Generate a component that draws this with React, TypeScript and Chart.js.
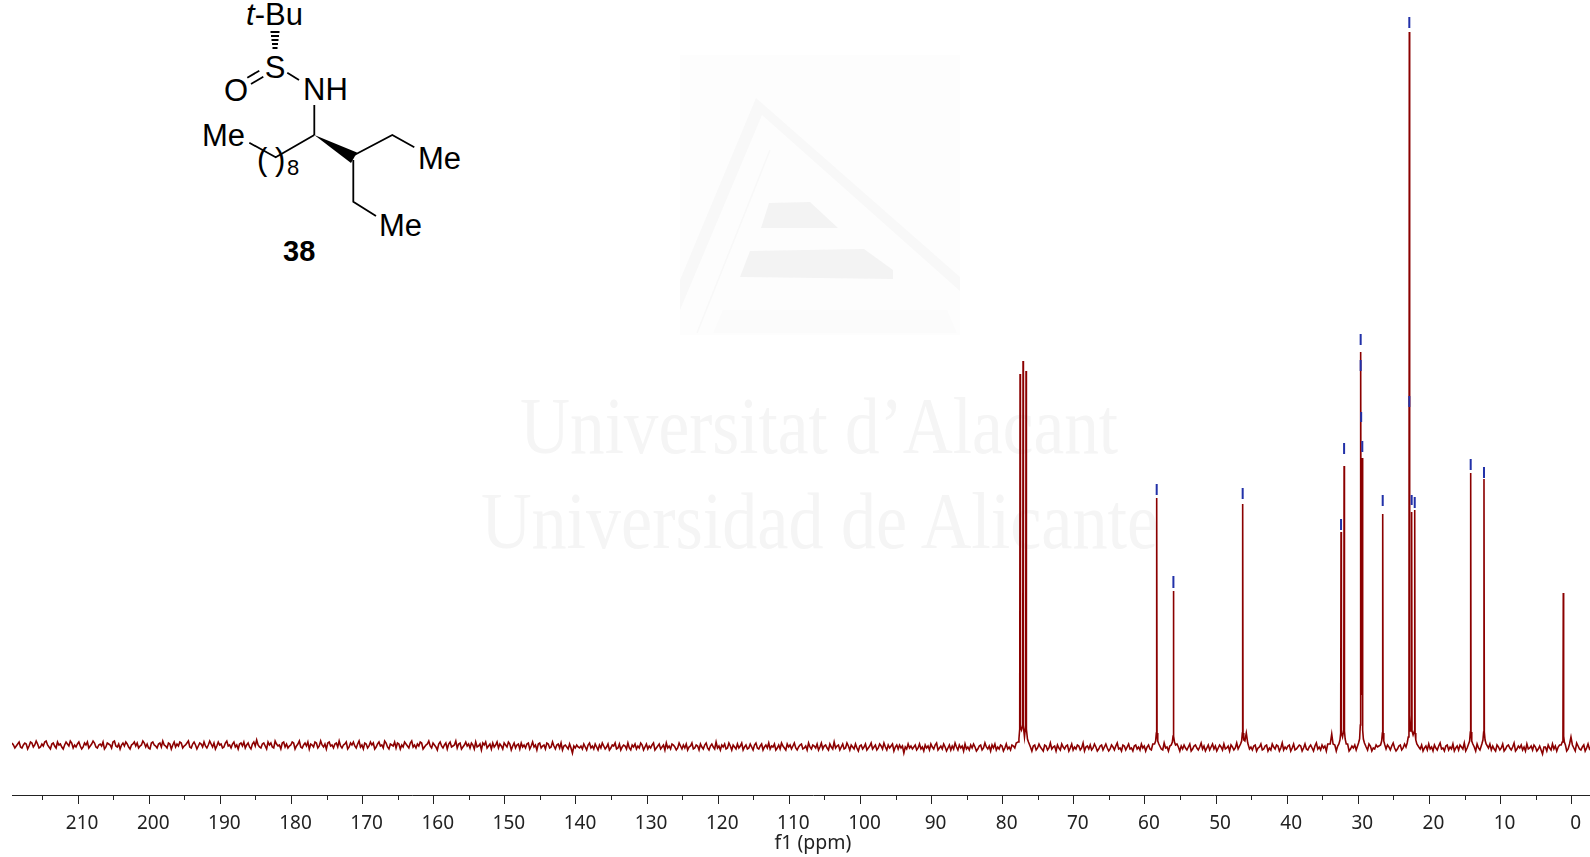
import React, { useEffect, useRef } from "react";
import { Chart, registerables } from "chart.js";

Chart.register(...registerables);

// Major / minor axis spacing in ppm
const majorStep = 10;
const minorStep = 5;
const axisHighPpm = 219.3;
const axisLowPpm = -5.95;

// Baseline, left to right, one value every 0.2 ppm starting at 219.3 ppm
const baselineStartPpm = 219.3;
const baselineStepPpm = 0.2;
const baselineValues = [
  2,0,-3,-1,1,3,-2,-3,0,2,1,-4,-1,3,2,-2,0,4,1,-3,-2,1,-1,3,4,0,-2,-4,1,2,-1,-3,3,0,1,-2,-4,0,3,1,
  -1,4,2,-3,0,-2,1,3,-1,-4,-2,2,0,3,-3,-1,1,4,2,-2,-3,0,1,-1,3,-4,-2,2,1,0,-3,3,4,-1,-2,1,-4,0,2,-1,
  3,1,-2,-4,0,1,3,-1,2,-3,-1,0,4,2,-2,1,-3,-4,2,3,0,-1,-3,1,2,-2,4,0,-1,-3,2,1,-4,0,3,-2,1,-1,3,2,
  -3,-1,0,2,4,-2,-3,1,3,0,-4,-1,2,1,-2,3,-1,-3,0,4,1,-2,2,-4,-1,3,0,1,-3,-2,2,4,-1,0,-3,1,3,-2,0,-4,
  1,2,-1,3,-3,0,2,-2,-4,1,3,-1,5,0,-2,-3,1,2,-1,-4,3,0,2,-2,-3,4,1,-1,0,-4,2,3,-2,1,-3,-1,0,3,2,-4,
  -1,1,4,-2,-3,0,2,-1,3,-4,1,0,-2,3,2,-3,-1,4,0,-2,1,-4,2,3,-1,0,-3,1,2,-2,4,-1,-3,0,1,3,-4,-2,2,0,
  3,-1,-3,1,4,-2,0,-4,2,1,-3,-1,3,0,2,-4,-2,1,3,-1,0,-3,4,2,-2,-4,1,0,-1,3,-3,2,1,-4,0,-2,3,1,-1,-3,
  2,4,-2,0,-3,1,-1,3,2,-4,-2,0,1,4,-1,-3,2,0,-2,-5,1,3,-1,-3,0,2,-4,1,3,-2,-1,0,4,-3,1,2,-4,-2,0,3,
  -1,1,-3,2,0,-4,3,-2,-1,1,-5,2,0,3,-3,-1,1,-4,2,-2,0,3,-3,1,-1,-4,2,0,-2,3,1,-5,-1,2,-3,0,1,-4,2,-2,
  0,-3,1,2,-4,-1,3,-2,0,-5,1,2,-3,-1,0,-4,2,1,-3,-2,3,-1,-4,0,1,-3,2,-5,-1,0,-2,-4,1,-3,-8,-1,-3,0,-2,-3,
  -1,-4,1,-2,-5,0,2,-3,-1,-4,1,-2,-5,0,-3,2,-1,-4,-2,1,-5,-3,0,-1,2,-4,-3,1,-5,-2,0,-1,-4,2,-3,-5,0,-2,1,-4,
  -1,-3,2,0,-5,-2,1,-4,-1,-3,0,2,-5,-3,-1,1,-4,-2,0,-5,2,-3,-1,-4,1,0,-2,-5,-3,2,-1,-4,0,-3,1,-5,-2,-1,2,-4,
  -3,0,-1,-5,1,-2,-4,0,2,-3,-5,-1,1,-2,-4,3,-3,-1,-5,0,-2,1,-4,-3,2,-1,-5,0,-2,-4,1,-3,-1,2,-5,-2,0,-4,-3,1,
  -2,-5,0,2,-3,-4,-1,1,-5,-2,0,-3,2,-4,-1,-2,1,-5,-3,0,-4,2,-1,-3,-5,1,-2,0,-4,-1,2,-3,-5,-2,0,1,-4,-3,-1,-5,
  2,-2,-4,0,-1,-3,1,-5,-2,2,-4,-1,0,-3,-5,1,-2,-4,3,-3,-1,0,-5,-2,1,-4,-3,2,-1,-5,0,-2,-4,1,-3,-6,-1,0,-4,-2,
  1,-5,-3,-1,2,-4,-2,0,-5,-3,1,-1,-4,2,-2,-5,0,-3,-1,1,-6,-2,0,-4,0,-3,-1,-8,-2,-4,1,-3,-1,-4,-2,0,-5,-3,1,-4,
  -2,-6,0,-3,-1,-5,1,-2,-4,0,2,-5,-3,-1,-4,1,-2,-6,-3,0,-5,-1,-4,2,-2,-5,0,-3,-1,-6,1,-4,-2,-5,0,-3,1,-2,-6,-4,
  -1,0,-5,-3,2,-2,-4,-1,-6,0,-3,1,-5,-2,-4,0,-1,-6,-3,1,-4,-2,-5,0,-1,-3,2,-6,-4,-2,-1,-5,0,-3,1,-4,-2,-6,-1,0,
  -5,-3,1,-2,-4,-6,0,-1,-5,-3,2,-4,-2,-1,-6,0,-3,-5,1,-2,-4,-1,0,-6,-3,1,-5,-2,-4,0,-1,-5,-3,2,-6,-2,-1,-4,0,-5,
  -3,1,-2,-6,-4,-1,0,-5,-2,1,-3,-6,-4,0,-2,-5,-1,2,-4,-3,-6,0,-1,-5,-2,1,-4,-3,-6,-1,0,-4,-2,-5,1,-3,-1,-6,-2,0,
  -4,-5,1,-3,-2,-6,0,-1,-4,-5,2,-3,-2,-6,-1,0,-4,-3,-5,1,-2,-6,-1,-4,0,-3,-5,-2,1,-6,-4,-1,0,-3,-5,-2,2,-4,-1,-6,
  -3,0,-5,-2,1,-4,-1,-6,-3,0,-2,-5,1,-4,-3,-1,-6,0,-2,-5,-3,2,-4,-1,-5,-2,0,-6,-3,1,-4,-2,-5,-1,0,-6,-3,-2,1,-5,
  -4,-1,0,-6,-3,-5,1,-2,-4,0,-1,-6,-3,2,-5,-2,-4,-1,0,-6,-3,1,-5,-4,-2,0,-1,-6,-3,1,-4,-5,-2,0,-3,-6,-1,2,-4,-2,
  -5,0,-3,-1,-6,1,-4,-2,-5,-3,0,-6,-1,2,-4,-3,-5,-2,0,1,-6,-4,-1,-3,0,-5,-2,1,-6,-3,-4,0,-2,-5,1,-1,-6,-3,-4,0,
  -2,-1,-5,1,-3,-6,-4,0,-2,-5,-1,2,-3,-6,-4,-1,0,-5,-3,1,-2,-5,-1,-4,-2,-3,-8,-1,-4,-2,-4,0,-6,-3,-1,-5,1,-4,
  -2,-6,0,-3,-5,-1,2,-4,-3,-6,-1,0,-5,-2,-4,1,-6,-3,-1,-5,0,-2,-4,2,-6,-3,-1,-5,-4,0,-2,-6,1,-3,-5,-1,-4,0,-6,-2,
  -3,1,-5,-1,-4,-6,0,-2,-5,-3,1,-6,-4,-1,0,-3,-5,-2,2,-6,-4,-1,-3,0,-5,-2,-6,1,-4,-3,-1,-5,0,-2,-6,-4,-1,-5,-9,-2,
  -2,-6,0,-3,-5,1,-4,-1,-6,-2,0,-5,-3,-1,1,-6,-4,-2,-5,0,-3,-6,2,-1,-4,-5,-2,0,-6,-3,1,-4,-2,-5,-1,-6,0,-3,-4,-2
];

// Every peak's outline: ppm positions and heights above the baseline, in the same order
const peakPpm = [
  77.85,77.72,77.61,77.56,77.51,77.36,77.19,77.14,77.09,76.94,76.77,76.72,76.67,76.52,76.38,
  58.65,58.5,58.4,58.35,58.3,58.2,58.05,
  56.3,56.15,56.05,56.0,55.95,55.85,55.7,
  46.56,46.41,46.31,46.26,46.21,46.11,45.95,45.75,45.55,
  33.95,33.74,33.55,
  32.73,32.58,32.48,32.43,32.38,32.22,32.05,32.0,31.95,31.85,31.7,
  29.97,29.82,29.72,29.67,29.6,29.52,29.44,29.39,29.29,29.14,
  26.87,26.72,26.62,26.57,26.52,26.42,26.27,
  23.13,22.98,22.88,22.83,22.78,22.66,22.55,22.5,22.45,22.3,22.12,22.07,22.02,21.92,21.77,
  14.5,14.35,14.25,14.2,14.15,14.05,13.9,
  12.63,12.48,12.38,12.33,12.28,12.18,12.03,
  1.48,1.33,1.23,1.18,1.13,1.03,0.88,
  0.3,0.1,-0.1
];
const peakHeights = [
  3,6,16,371,18,15,20,384,18,8,20,374,16,6,3,
  1,4,12,247,12,4,1,
  0,3,9,154,9,3,0,
  1,4,12,241,12,5,4,12,2,
  1,11,1,
  1,5,12,213,12,8,15,279,14,6,1,
  2,6,20,393,90,50,287,15,6,2,
  0,4,12,231,12,4,0,
  2,8,30,713,30,14,14,233,14,10,14,235,12,5,1,
  1,4,13,272,13,4,1,
  1,5,13,266,13,5,1,
  0,3,9,152,9,3,0,
  1,8,0
];

// Blue peak-picking ticks: ppm and the low and high end of each tick
const pickPpm = [58.35,56.0,46.26,32.43,32.0,29.67,29.67,29.6,29.44,26.57,22.83,22.83,22.5,22.07,14.2,12.33];
const pickLow = [250,157,246,215,291,400,374,323,293,239,717,338,240,237,275,267];
const pickHigh = [261,169,257,226,302,411,385,333,304,250,728,349,250,248,286,278];

function buildTrace() {
  const pts: { x: number; y: number }[] = peakPpm.map((x, i) => ({ x, y: peakHeights[i] }));
  const keep: number[] = [];
  baselineValues.forEach((y, i) => {
    const x = baselineStartPpm - baselineStepPpm * i;
    const inPeak = pts.some((p) => Math.abs(p.x - x) < 0.15);
    if (!inPeak) keep.push(i);
  });
  const base = keep.map((i) => ({ x: baselineStartPpm - baselineStepPpm * i, y: baselineValues[i] }));
  return [...pts, ...base].sort((a, b) => b.x - a.x);
}

function buildPicks() {
  const pts: { x: number; y: number }[] = [];
  pickPpm.forEach((x, i) => {
    pts.push({ x, y: pickLow[i] }, { x, y: pickHigh[i] }, { x, y: NaN });
  });
  return pts;
}

function Watermark() {
  return (
    <g>
      <rect x={680} y={55} width={280} height={280} fill="#fdfdfd" />
      <polygon points="756,98 960,277 960,291 762,115 680,310 680,280" fill="#f8f8f8" />
      <line x1={770} y1={150} x2={697} y2={333} stroke="#f8f8f8" strokeWidth={1.5} />
      <polygon points="769,203 810,202 838,228 761,228" fill="#f3f3f3" />
      <polygon points="750,251 864,249 893,270 893,279 740,277" fill="#f3f3f3" />
      <polygon points="723,310 947,310 957,333 713,333" fill="#fbfbfb" />
      <g fontFamily="'Liberation Serif'" fontSize={80} fill="#f5f5f5">
        <text x={520} y={453} textLength={598} lengthAdjust="spacingAndGlyphs">Universitat d’Alacant</text>
        <text x={481} y={548} textLength={677} lengthAdjust="spacingAndGlyphs">Universidad de Alicante</text>
      </g>
    </g>
  );
}

function Molecule() {
  const bond = { stroke: "#000", strokeWidth: 1.8, fill: "none" };
  return (
    <g fontFamily="'Liberation Sans'" fontSize={31} fill="#000">
      <text x={246} y={25}><tspan fontStyle="italic">t</tspan>-Bu</text>
      <text x={275} y={78} textAnchor="middle">S</text>
      <text x={236} y={101} textAnchor="middle">O</text>
      <text x={303} y={100}>NH</text>
      <text x={202} y={146}>Me</text>
      <text x={257} y={170}>(</text>
      <text x={275} y={170}>)</text>
      <text x={287} y={175} fontSize={22}>8</text>
      <text x={418} y={169}>Me</text>
      <text x={379} y={236}>Me</text>
      <text x={283} y={261} fontSize={29} fontWeight="bold">38</text>
      <g {...bond}>
        <path d="M270.5 32H279.5M271 36H279M271.5 40H278.5M272 44H278M272.5 48H277.5" />
        <path d="M247.3 77.7L259.3 70.7M251 84L263.3 76.7" />
        <path d="M287.3 72.7L299 80" />
        <path d="M314.3 105V135" />
        <path d="M249.3 142.7L275.7 157.3L314.3 135" />
        <path d="M354.3 155L392.3 135L414.3 147.3" />
        <path d="M353.3 160V201.7L376 216" />
      </g>
      <polygon points="314.3,135 357,152.5 351,163" fill="#000" />
    </g>
  );
}

export default function App() {
  const ref = useRef<HTMLCanvasElement>(null);
  useEffect(() => {
    const chart = new Chart(ref.current!, {
      type: "line",
      data: {
        datasets: [
          {
            label: "Peak picks",
            data: buildPicks(),
            borderColor: "#2231a8",
            borderWidth: 2,
            pointRadius: 0,
            spanGaps: false,
            tension: 0,
          },
          {
            label: "13C spectrum",
            data: buildTrace(),
            borderColor: "#8b0000",
            borderWidth: 1.6,
            pointRadius: 0,
            tension: 0,
          },
        ],
      },
      options: {
        animation: false,
        responsive: false,
        layout: { padding: { left: 12, right: 0, top: 0, bottom: 0 } },
        plugins: { legend: { display: false }, tooltip: { enabled: false } },
        scales: {
          x: {
            type: "linear",
            reverse: true,
            min: axisLowPpm,
            max: axisHighPpm,
            position: "bottom",
            afterFit: (s: any) => { s.height = 62; },
            grid: { drawOnChartArea: false, tickLength: 9, tickColor: "#222", tickWidth: 1 },
            border: { display: true, color: "#222", width: 1 },
            ticks: {
              stepSize: majorStep,
              includeBounds: false,
              autoSkip: false,
              maxRotation: 0,
              labelOffset: 4,
              padding: 8,
              color: "#222",
              font: { family: "'Noto Sans'", size: 19 },
              callback: (v: any) => (Number(v) < 0 ? "" : String(v)),
            },
            title: {
              display: true,
              text: "f1 (ppm)",
              color: "#222",
              font: { family: "'Noto Sans'", size: 19.5 },
              padding: { top: 0, bottom: 2 },
            },
          },
          xMinor: {
            type: "linear",
            axis: "x",
            reverse: true,
            min: axisLowPpm,
            max: axisHighPpm,
            position: { y: -50 },
            grid: { drawOnChartArea: false, tickLength: 5, tickColor: "#222", tickWidth: 1 },
            border: { display: false },
            ticks: { display: false, stepSize: minorStep, includeBounds: false, autoSkip: false },
          },
          y: { type: "linear", display: false, min: -50, max: 745 },
        },
      },
    } as any);
    return () => chart.destroy();
  }, []);
  return (
    <div style={{ position: "absolute", left: 0, top: 0, width: 1590, height: 857, overflow: "hidden", background: "#fff" }}>
      <svg width={1590} height={857} style={{ position: "absolute", left: 0, top: 0 }}>
        <Watermark />
        <Molecule />
      </svg>
      <canvas ref={ref} width={1614} height={857} style={{ position: "absolute", left: 0, top: 0, display: "block" }} />
    </div>
  );
}
